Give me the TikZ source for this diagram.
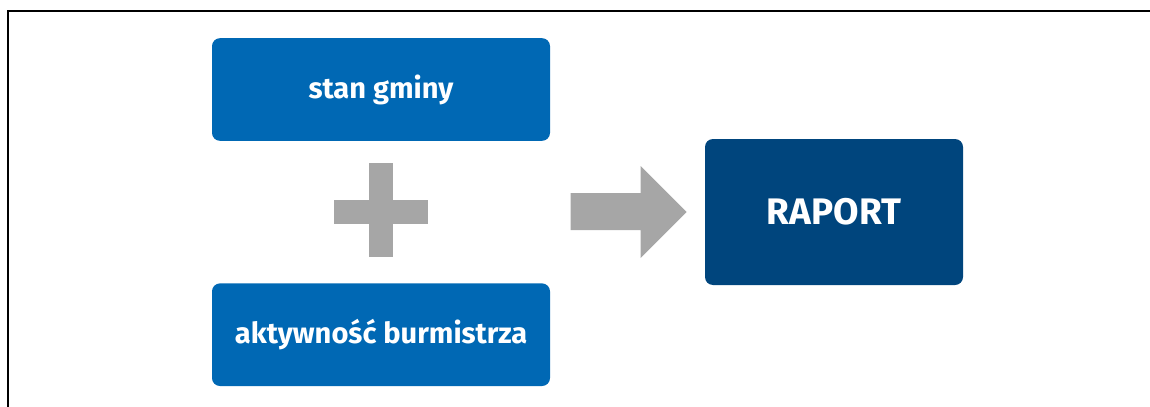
\documentclass[tikz,border=0pt]{standalone}
\usepackage{fontspec}
\setmainfont{Fira Sans}
\usepackage{tikz}
\usetikzlibrary{positioning,calc}

\definecolor{boxblue}{RGB}{0,104,180}
\definecolor{raportblue}{RGB}{0,69,125}
\definecolor{signgray}{RGB}{166,166,166}

\begin{document}
\begin{tikzpicture}[
    x=0.75pt, y=-0.75pt,
    node distance=106.5pt,
    box/.style={rectangle, rounded corners=6pt, fill=boxblue, text=white, font=\bfseries\fontsize{21.8}{26}\selectfont, minimum width=253.5pt, minimum height=77pt, inner sep=0pt, text centered},
    raportbox/.style={box, fill=raportblue, font=\bfseries\fontsize{27.7}{32}\selectfont, minimum width=193.5pt, minimum height=109.5pt},
    sign/.style={fill=signgray, draw=none}
]
\useasboundingbox (0,0) rectangle (1150,407);

% Frame
\draw[line width=1.7pt] (8,407) -- (8,11) -- (1150,11);

% Boxes
\node[box] (gmina) at (381,89.5) {stan gminy};

\node[box, below=of gmina] (burm) {aktywność burmistrza};

\node[raportbox] (raport) at (834,212) {RAPORT};

% Plus sign
\coordinate (plus) at ($(gmina.south)!0.5!(burm.north)$);
\fill[sign] ($(plus)+(-47,-12)$) rectangle ($(plus)+(47,12)$);
\fill[sign] ($(plus)+(-12,-49)$) rectangle ($(plus)+(12,45)$);

% Arrow
\coordinate (tip) at ($(raport.west)+(-18,0)$);
\fill[sign] (tip) -- ++(-46,-46) -- ++(0,27) -- ++(-70,0) -- ++(0,37) -- ++(70,0) -- ++(0,28) -- cycle;

\end{tikzpicture}
\end{document}
